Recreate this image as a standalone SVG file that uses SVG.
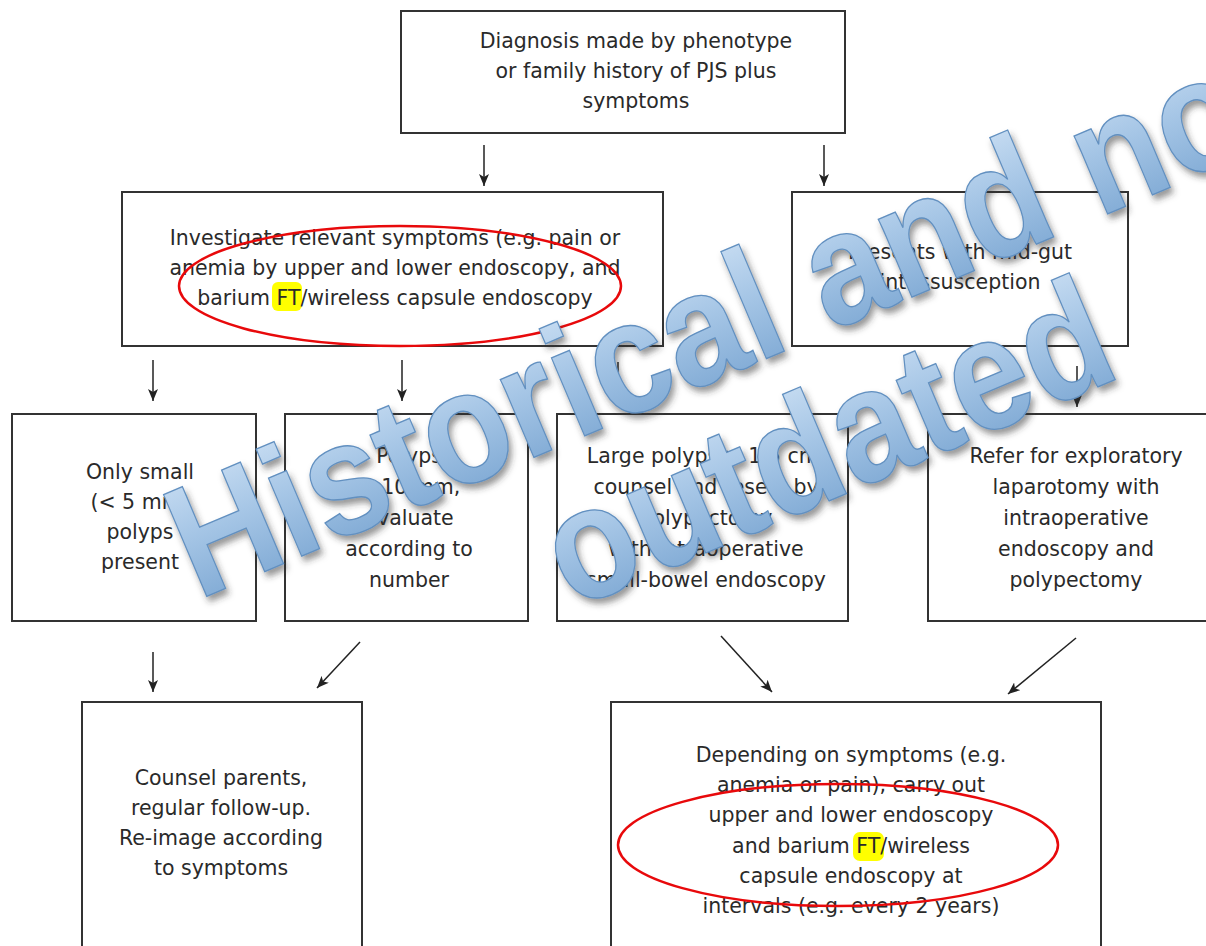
<svg xmlns="http://www.w3.org/2000/svg" width="1206" height="946" viewBox="0 0 1206 946">
<style>
.box{fill:#fff;stroke:#333;stroke-width:2}
.t{font-family:"DejaVu Sans",sans-serif;font-size:20.5px;fill:#2a2a2a;text-anchor:middle}
.hl{fill:#ffff00}
.ring{fill:none;stroke:#e8090b;stroke-width:2.5}
.c{stroke:#222;stroke-width:1.5;fill:none;marker-end:url(#ah)}
.wm{font-family:"Liberation Sans",Arial,sans-serif;font-weight:bold;font-size:142px;fill:url(#wg);stroke:#6290c0;stroke-width:1.2}
</style>
<defs>
<marker id="ah" viewBox="0 0 12 10" refX="12" refY="5" markerWidth="12" markerHeight="10" orient="auto" markerUnits="userSpaceOnUse"><path d="M0,0 L12,5 L0,10 L3,5 z" fill="#222"/></marker>
<linearGradient id="wg" x1="0" y1="0" x2="0" y2="1">
<stop offset="0" stop-color="#d2e4f6"/>
<stop offset="0.45" stop-color="#a6c6e6"/>
<stop offset="1" stop-color="#74a1cf"/>
</linearGradient>
<filter id="sh" x="-10%" y="-10%" width="120%" height="130%"><feDropShadow dx="3" dy="5" stdDeviation="3" flood-color="#333" flood-opacity="0.5"/></filter>
</defs>

<g id="connectors">
<line class="c" x1="484" y1="145" x2="484" y2="186"/>
<line class="c" x1="824" y1="145" x2="824" y2="186"/>
<line class="c" x1="153" y1="360" x2="153" y2="401"/>
<line class="c" x1="402" y1="360" x2="402" y2="401"/>
<line class="c" x1="618" y1="362" x2="618" y2="403"/>
<line class="c" x1="1077" y1="366" x2="1077" y2="407"/>
<line class="c" x1="153" y1="652" x2="153" y2="692"/>
<line class="c" x1="360" y1="642" x2="317" y2="688"/>
<line class="c" x1="721" y1="636" x2="772" y2="692"/>
<line class="c" x1="1076" y1="638" x2="1008" y2="694"/>
</g>

<g id="n-diagnosis">
<rect class="box" x="401" y="11" width="444" height="122"/>
<text class="t" x="636" y="48">Diagnosis made by phenotype</text>
<text class="t" x="636" y="78">or family history of PJS plus</text>
<text class="t" x="636" y="108">symptoms</text>
</g>

<g id="n-investigate">
<rect class="box" x="122" y="192" width="541" height="154"/>
<rect class="hl" x="272" y="282" width="30" height="29" rx="6"/>
<text class="t" x="395" y="245">Investigate relevant symptoms (e.g. pain or</text>
<text class="t" x="395" y="275">anemia by upper and lower endoscopy, and</text>
<text class="t" x="395" y="305">barium FT/wireless capsule endoscopy</text>
<ellipse class="ring" cx="400" cy="286" rx="221" ry="60"/>
</g>

<g id="n-presents">
<rect class="box" x="792" y="192" width="336" height="154"/>
<text class="t" x="960" y="259">Presents with mid-gut</text>
<text class="t" x="960" y="289">intussusception</text>
</g>

<g id="n-small">
<rect class="box" x="12" y="414" width="244" height="207"/>
<text class="t" x="140" y="479">Only small</text>
<text class="t" x="140" y="509">(&lt; 5 mm)</text>
<text class="t" x="140" y="539">polyps</text>
<text class="t" x="140" y="569">present</text>
</g>

<g id="n-polyps">
<rect class="box" x="285" y="414" width="243" height="207"/>
<text class="t" x="409" y="463">Polyps</text>
<text class="t" x="409" y="494">&gt; 10 mm,</text>
<text class="t" x="409" y="525">evaluate</text>
<text class="t" x="409" y="556">according to</text>
<text class="t" x="409" y="587">number</text>
</g>

<g id="n-large">
<rect class="box" x="557" y="414" width="291" height="207"/>
<text class="t" x="706" y="463">Large polyps &gt; 1.5 cm,</text>
<text class="t" x="706" y="494">counsel and resect by</text>
<text class="t" x="706" y="525">polypectomy</text>
<text class="t" x="706" y="556">with intraoperative</text>
<text class="t" x="706" y="587">small-bowel endoscopy</text>
</g>

<g id="n-refer">
<rect class="box" x="928" y="414" width="290" height="207"/>
<text class="t" x="1076" y="463">Refer for exploratory</text>
<text class="t" x="1076" y="494">laparotomy with</text>
<text class="t" x="1076" y="525">intraoperative</text>
<text class="t" x="1076" y="556">endoscopy and</text>
<text class="t" x="1076" y="587">polypectomy</text>
</g>

<g id="n-counsel">
<rect class="box" x="82" y="702" width="280" height="260"/>
<text class="t" x="221" y="785">Counsel parents,</text>
<text class="t" x="221" y="815">regular follow-up.</text>
<text class="t" x="221" y="845">Re-image according</text>
<text class="t" x="221" y="875">to symptoms</text>
</g>

<g id="n-depending">
<rect class="box" x="611" y="702" width="490" height="260"/>
<rect class="hl" x="853" y="832" width="31" height="29" rx="7"/>
<text class="t" x="851" y="762">Depending on symptoms (e.g.</text>
<text class="t" x="851" y="792">anemia or pain), carry out</text>
<text class="t" x="851" y="822">upper and lower endoscopy</text>
<text class="t" x="851" y="853">and barium FT/wireless</text>
<text class="t" x="851" y="883">capsule endoscopy at</text>
<text class="t" x="851" y="913">intervals (e.g. every 2 years)</text>
<ellipse class="ring" cx="838" cy="845" rx="220" ry="61"/>
</g>

<g id="watermark" filter="url(#sh)">
<text class="wm" transform="translate(198,600) rotate(-23) scale(1,1.13)">Historical and no</text>
<text class="wm" transform="translate(572,610) rotate(-23) scale(1,1.13)">outdated</text>
</g>
</svg>
